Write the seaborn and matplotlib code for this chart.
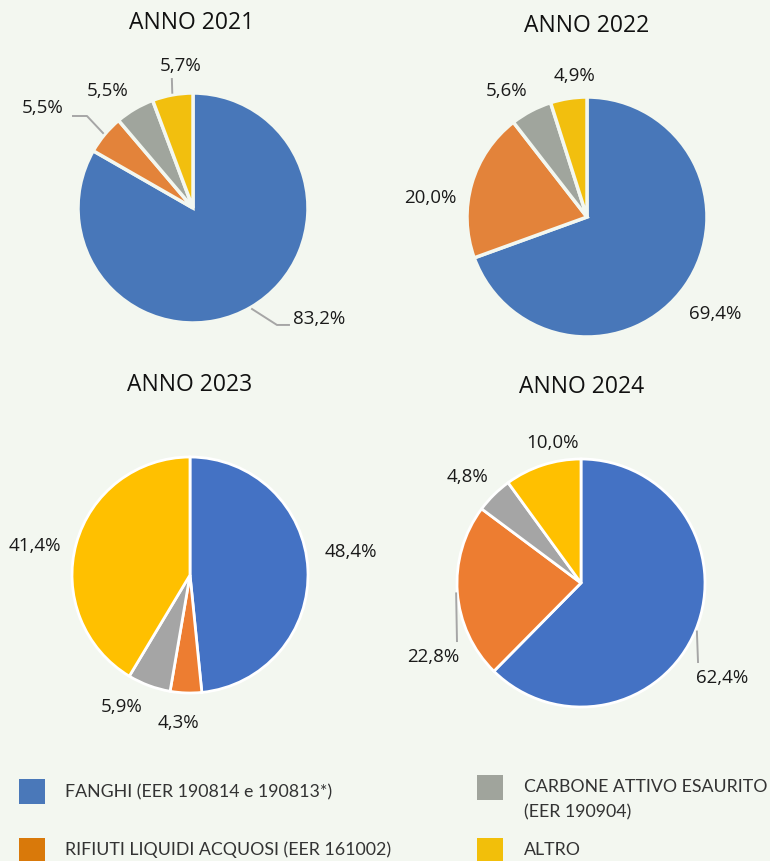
import matplotlib
matplotlib.use("Agg")
import matplotlib.pyplot as plt
from matplotlib.patches import Rectangle
import numpy as np
import seaborn as sns

# ── Data ──────────────────────────────────────────────────
titles = ["ANNO 2021", "ANNO 2022", "ANNO 2023", "ANNO 2024"]
categories = ["FANGHI (EER 190814 e 190813*)",
              "RIFIUTI LIQUIDI ACQUOSI (EER 161002)",
              "CARBONE ATTIVO ESAURITO\n(EER 190904)",
              "ALTRO"]
share_2021 = [83.2, 5.5, 5.5, 5.7]
share_2022 = [69.4, 20.0, 5.6, 4.9]
share_2023 = [48.4, 4.3, 5.9, 41.4]
share_2024 = [62.4, 22.8, 4.8, 10.0]
shares = [share_2021, share_2022, share_2023, share_2024]

# ── Style ─────────────────────────────────────────────────
BG = "#f3f7f0"
sns.set_theme(style="white", rc={"figure.facecolor": BG, "axes.facecolor": BG})
plt.rcParams["font.family"] = ["Open Sans", "DejaVu Sans"]

pal_old = sns.color_palette(["#4877b9", "#e3833a", "#a0a59d", "#f2bf0e"])
pal_new = sns.color_palette(["#4472c4", "#ed7d31", "#a5a5a5", "#ffc000"])
pal_legend = sns.color_palette(["#4a78b9", "#d9790a", "#a0a49c", "#f2bf0a"])

W, H = 770, 861
fig = plt.figure(figsize=(W / 100, H / 100), dpi=100)

# pie layout in pixels: centre, radius, title position
pies = [
    dict(c=(193, 208), r=115, t=(192, 23), pal=pal_old, ec=BG, lw=2.5,
         lab=[(1.096, -0.965), (-1.304, 0.870), (-0.739, 1.017), (-0.104, 1.235)],
         lead={0: [(0.73, -1.017), (0.843, -1.017)],
               1: [(-0.922, 0.80), (-1.052, 0.80)],
               3: [(-0.184, 1.13)]}),
    dict(c=(587, 217), r=120, t=(587, 26), pal=pal_old, ec=BG, lw=2.5,
         lab=[(1.067, -0.812), (-1.308, 0.162), (-0.667, 1.046), (-0.108, 1.179)],
         lead={}),
    dict(c=(190, 575), r=118, t=(190, 385), pal=pal_new, ec="white", lw=2.0,
         lab=[(1.364, 0.195), (-0.102, -1.254), (-0.576, -1.119), (-1.314, 0.246)],
         lead={}),
    dict(c=(581, 583), r=124, t=(582, 387), pal=pal_new, ec="white", lw=2.0,
         lab=[(1.137, -0.766), (-1.194, -0.597), (-0.919, 0.855), (-0.226, 1.129)],
         lead={0: [(0.944, -0.645)],
               1: [(-1.0, -0.476)]}),
]

for title, vals, p in zip(titles, shares, pies):
    cx, cy = p["c"]
    r = p["r"]
    ax = fig.add_axes([(cx - 1.25 * r) / W, 1 - (cy + 1.25 * r) / H,
                       2.5 * r / W, 2.5 * r / H])
    wedges, _ = ax.pie(vals, colors=p["pal"], startangle=90, counterclock=False,
                       wedgeprops=dict(edgecolor=p["ec"], linewidth=p["lw"]))
    ax.set_xlim(-1.25, 1.25)
    ax.set_ylim(-1.25, 1.25)
    ax.axis("off")

    for i, (w, v) in enumerate(zip(wedges, vals)):
        dx, dy = p["lab"][i]
        txt = f"{v:.1f}".replace(".", ",") + "%"
        ax.text(dx, dy, txt, ha="center", va="center", fontsize=13.5,
                color="#1a1a1a", clip_on=False)
        if i in p["lead"]:
            mid = np.deg2rad((w.theta1 + w.theta2) / 2)
            pts = [(1.01 * np.cos(mid), 1.01 * np.sin(mid))] + p["lead"][i]
            xs, ys = zip(*pts)
            ax.plot(xs, ys, color="#a6a6a6", lw=1.4, clip_on=False,
                    solid_capstyle="butt")

    tx, ty = p["t"]
    fig.text(tx / W, 1 - ty / H, title, ha="center", va="center",
             fontsize=16.5, color="#111111")

# ── Legend (drawn by hand) ────────────────────────────────
legend_pos = [  # square x, square top, text x, text centre y (pixels)
    (19, 779, 65, 792),
    (19, 838, 65, 850),
    (477, 775, 524, 800),
    (477, 838, 524, 850),
]
for lab, col, (sx, sy, tx, ty) in zip(categories, pal_legend, legend_pos):
    fig.patches.append(Rectangle((sx / W, 1 - (sy + 25) / H), 26 / W, 25 / H,
                                 transform=fig.transFigure, facecolor=col,
                                 edgecolor="none"))
    fig.text(tx / W, 1 - ty / H, lab, ha="left", va="center", fontsize=12.8,
             family=["Lato", "DejaVu Sans"], fontweight="normal",
             color="#333333", linespacing=1.7)

fig.savefig("out.png", dpi=100, facecolor=BG)
